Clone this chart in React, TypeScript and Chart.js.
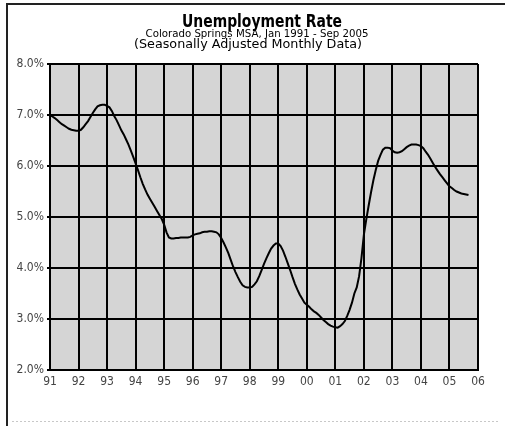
import React, { useEffect, useRef } from "react";
import { Chart, registerables } from "chart.js";

Chart.register(...registerables);

const titleText = "Unemployment Rate";
const subtitleText = "Colorado Springs MSA, Jan 1991 - Sep 2005";
const noteText = "(Seasonally Adjusted Monthly Data)";

const startYear = 1991;
const endYear = 2006;

// Monthly unemployment rate (%), Jan..Dec of each year
const rate1991 = [7.0, 6.97, 6.94, 6.9, 6.86, 6.82, 6.79, 6.76, 6.73, 6.71, 6.7, 6.69];
const rate1992 = [6.69, 6.71, 6.76, 6.82, 6.88, 6.96, 7.04, 7.11, 7.17, 7.19, 7.2, 7.2];
const rate1993 = [7.18, 7.15, 7.08, 6.98, 6.9, 6.8, 6.7, 6.62, 6.52, 6.42, 6.3, 6.18];
const rate1994 = [6.05, 5.92, 5.78, 5.65, 5.54, 5.44, 5.36, 5.28, 5.2, 5.12, 5.04, 4.96];
const rate1995 = [4.85, 4.7, 4.6, 4.58, 4.58, 4.59, 4.59, 4.6, 4.6, 4.6, 4.6, 4.61];
const rate1996 = [4.64, 4.66, 4.67, 4.68, 4.7, 4.71, 4.71, 4.72, 4.72, 4.71, 4.7, 4.66];
const rate1997 = [4.59, 4.5, 4.4, 4.29, 4.16, 4.03, 3.92, 3.82, 3.73, 3.66, 3.63, 3.62];
const rate1998 = [3.62, 3.63, 3.68, 3.74, 3.84, 3.96, 4.08, 4.19, 4.29, 4.38, 4.44, 4.48];
const rate1999 = [4.48, 4.43, 4.34, 4.22, 4.09, 3.96, 3.82, 3.69, 3.58, 3.48, 3.4, 3.32];
const rate2000 = [3.28, 3.24, 3.19, 3.15, 3.12, 3.08, 3.03, 2.98, 2.94, 2.9, 2.87, 2.85];
const rate2001 = [2.84, 2.83, 2.86, 2.9, 2.96, 3.06, 3.18, 3.32, 3.5, 3.62, 3.84, 4.2];
const rate2002 = [4.65, 4.95, 5.22, 5.48, 5.72, 5.92, 6.1, 6.22, 6.32, 6.36, 6.36, 6.35];
const rate2003 = [6.3, 6.27, 6.26, 6.27, 6.29, 6.33, 6.37, 6.4, 6.42, 6.42, 6.42, 6.41];
const rate2004 = [6.39, 6.35, 6.28, 6.22, 6.14, 6.06, 5.98, 5.91, 5.84, 5.78, 5.72, 5.66];
const rate2005 = [5.6, 5.57, 5.53, 5.5, 5.48, 5.46, 5.45, 5.44, 5.43];

const ratesByYear = [
  rate1991, rate1992, rate1993, rate1994, rate1995, rate1996, rate1997, rate1998,
  rate1999, rate2000, rate2001, rate2002, rate2003, rate2004, rate2005,
];

const yMin = 2;
const yMax = 8;

const W = 505;
const H = 426;
const FONT = '"Liberation Sans Narrow", "DejaVu Sans Condensed", "Arial Narrow", sans-serif';

function buildPoints() {
  const pts: { x: number; y: number }[] = [];
  ratesByYear.forEach((arr, yi) => {
    arr.forEach((v, m) => pts.push({ x: startYear + yi + m / 12, y: v }));
  });
  return pts;
}

function fitText(ctx: CanvasRenderingContext2D, text: string, cx: number, baseline: number, width: number, size: number, bold: boolean) {
  ctx.save();
  ctx.font = `${bold ? "bold " : ""}${size}px ${FONT}`;
  const w = ctx.measureText(text).width;
  ctx.translate(cx, baseline);
  ctx.scale(width / w, 1);
  ctx.textAlign = "center";
  ctx.textBaseline = "alphabetic";
  ctx.fillStyle = "#000";
  ctx.fillText(text, 0, 0);
  ctx.restore();
}

const decorPlugin = {
  id: "decor",
  beforeDraw(chart: any) {
    const { ctx, chartArea } = chart;
    ctx.save();
    ctx.fillStyle = "#fff";
    ctx.fillRect(0, 0, chart.width, chart.height);
    ctx.fillStyle = "#d5d5d5";
    ctx.fillRect(chartArea.left, chartArea.top, chartArea.right - chartArea.left, chartArea.bottom - chartArea.top);
    ctx.restore();
  },
  afterDraw(chart: any) {
    const { ctx } = chart;
    ctx.save();
    ctx.strokeStyle = "#222";
    ctx.lineWidth = 2;
    ctx.beginPath();
    ctx.moveTo(7, H);
    ctx.lineTo(7, 4);
    ctx.lineTo(W, 4);
    ctx.stroke();
    ctx.strokeStyle = "#c8c8c8";
    ctx.lineWidth = 1;
    ctx.setLineDash([2, 2]);
    ctx.beginPath();
    ctx.moveTo(12, 421.5);
    ctx.lineTo(498, 421.5);
    ctx.stroke();
    ctx.restore();
    fitText(ctx, titleText, 262, 27, 160, 17, true);
    fitText(ctx, subtitleText, 257, 37, 223, 11, false);
    fitText(ctx, noteText, 248, 48, 228, 12, false);
  },
};

export default function App() {
  const ref = useRef<HTMLCanvasElement | null>(null);
  useEffect(() => {
    if (!ref.current) return;
    const chart = new Chart(ref.current, {
      type: "line",
      data: {
        datasets: [
          {
            data: buildPoints(),
            borderColor: "#000",
            borderWidth: 2,
            pointRadius: 0,
            tension: 0,
            fill: false,
          },
        ],
      },
      options: {
        animation: false,
        responsive: false,
        devicePixelRatio: 1,
        layout: { padding: { top: 64, left: 0, right: 27, bottom: 0 } },
        plugins: { legend: { display: false }, tooltip: { enabled: false }, title: { display: false } },
        scales: {
          x: {
            type: "linear",
            min: startYear,
            max: endYear,
            afterFit: (s: any) => { s.height = 56; },
            ticks: {
              stepSize: 1,
              autoSkip: false,
              maxRotation: 0,
              padding: 5,
              color: "#444",
              font: { family: FONT, size: 12 },
              callback: (v: any) => (Number.isInteger(v) ? String(v % 100).padStart(2, "0") : ""),
            },
            grid: { color: "#000", lineWidth: 2, drawTicks: false },
            border: { color: "#000", width: 2 },
          },
          y: {
            min: yMin,
            max: yMax,
            afterFit: (s: any) => { s.width = 50; },
            ticks: {
              stepSize: 1,
              padding: 3,
              color: "#444",
              font: { family: FONT, size: 12 },
              callback: (v: any) => Number(v).toFixed(1) + "%",
            },
            grid: { color: "#000", lineWidth: 2, tickLength: 3 },
            border: { color: "#000", width: 2 },
          },
        },
      },
      plugins: [decorPlugin],
    });
    return () => chart.destroy();
  }, []);
  return (
    <div style={{ position: "fixed", left: 0, top: 0, width: W, height: H, background: "#fff" }}>
      <canvas ref={ref} width={W} height={H} style={{ width: W, height: H, display: "block" }} />
    </div>
  );
}
